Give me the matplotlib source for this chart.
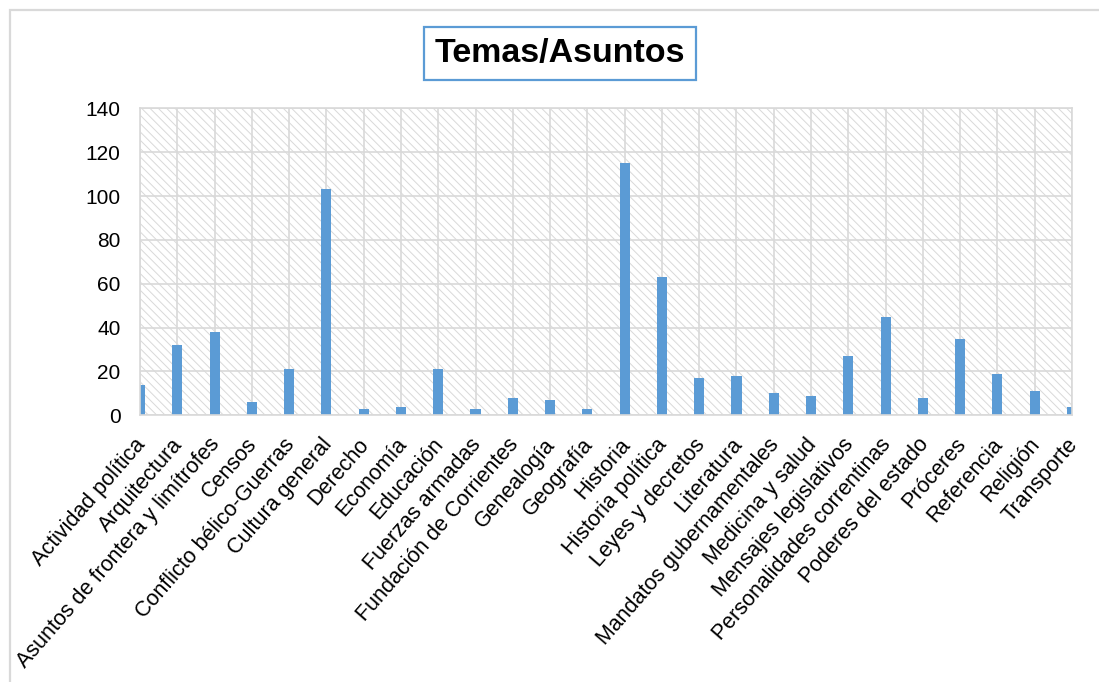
import matplotlib
matplotlib.use('Agg')
import matplotlib.pyplot as plt
import matplotlib.transforms as mtransforms
from matplotlib.patches import Rectangle

# categories and counts
temas = ['Actividad política', 'Arquitectura', 'Asuntos de frontera y limítrofes',
         'Censos', 'Conflicto bélico-Guerras', 'Cultura general', 'Derecho',
         'Economía', 'Educación', 'Fuerzas armadas', 'Fundación de Corrientes',
         'Genealogía', 'Geografía', 'Historia', 'Historia política',
         'Leyes y decretos', 'Literatura', 'Mandatos gubernamentales',
         'Medicina y salud', 'Mensajes legislativos', 'Personalidades correntinas',
         'Poderes del estado', 'Próceres', 'Referencia', 'Religión', 'Transporte']
cantidad = [14, 32, 38, 6, 21, 103, 3, 4, 21, 3, 8, 7, 3, 115, 63,
            17, 18, 10, 9, 27, 45, 8, 35, 19, 11, 4]
yticks = [0, 20, 40, 60, 80, 100, 120, 140]

plt.rcParams['font.family'] = ['Liberation Sans', 'DejaVu Sans']
plt.rcParams['hatch.color'] = '#d9d9d9'
plt.rcParams['hatch.linewidth'] = 0.7

grid_col = '#d9d9d9'
bar_col = '#5b9bd5'

fig = plt.figure(figsize=(10.99, 6.82), dpi=100)
ax = fig.add_axes([140 / 1099, 1 - 415.3 / 682, 932 / 1099, 307 / 682])

# hatched plot area background
ax.add_patch(Rectangle((0, 0), 1, 1, transform=ax.transAxes, facecolor='white',
                       edgecolor='#d9d9d9', hatch='\\\\\\\\', lw=0, zorder=0))

x = list(range(len(temas)))
ax.bar(x, cantidad, width=0.27, color=bar_col, zorder=2)

ax.set_xlim(0, len(temas) - 1)
ax.set_ylim(0, 140)
ax.set_yticks(yticks)
ax.set_xticks(x)
ax.set_xticklabels(temas, rotation=49, ha='right', va='top',
                   rotation_mode='anchor', fontsize=15.5)
ax.tick_params(axis='y', length=0, pad=14, labelsize=15)
ax.tick_params(axis='x', length=0, pad=10)
shift = mtransforms.ScaledTranslation(-6 / 100, -5 / 100, fig.dpi_scale_trans)
for lab in ax.get_xticklabels():
    lab.set_transform(lab.get_transform() + shift)
ax.set_axisbelow(True)
ax.grid(True, color=grid_col, linewidth=1.2)
for s in ax.spines.values():
    s.set_color(grid_col)
    s.set_linewidth(1.2)

# chart outer border
fig.add_artist(Rectangle((10 / 1099, -0.1), 1.2, (682 - 10) / 682 + 0.1,
                         transform=fig.transFigure, fill=False,
                         edgecolor='#d9d9d9', lw=1.6))

fig.text(560 / 1099, 1 - 53.5 / 682, 'Temas/Asuntos', fontsize=24.5, fontweight='bold',
         ha='center', va='center',
         bbox=dict(boxstyle='square,pad=0.32', fc='white', ec=bar_col, lw=1.6))

fig.savefig('out.png', dpi=100)
